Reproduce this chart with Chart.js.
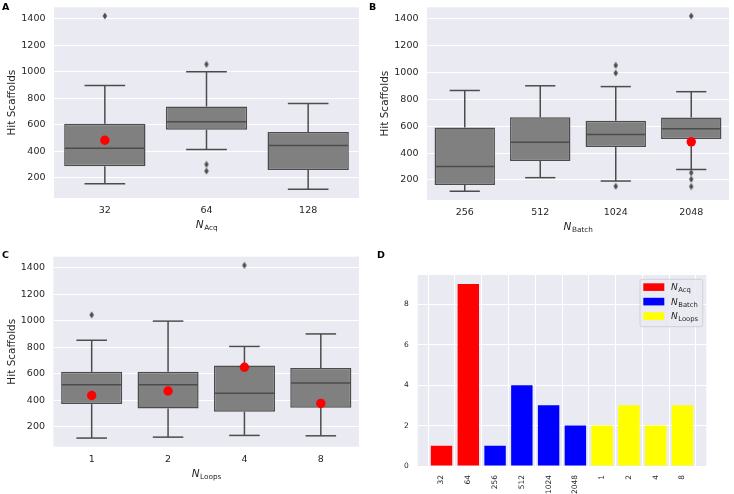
<!DOCTYPE html>
<html><head><meta charset="utf-8">
<script src="https://cdn.jsdelivr.net/npm/chart.js@4/dist/chart.umd.min.js"></script>
<style>
html,body{margin:0;padding:0;background:#fff;}
body{width:734px;height:494px;position:relative;overflow:hidden;}
canvas{position:absolute;}
</style></head><body>
<canvas id="cA" width="367" height="240" style="left:0;top:0"></canvas>
<canvas id="cB" width="367" height="240" style="left:367px;top:0"></canvas>
<canvas id="cC" width="367" height="254" style="left:0;top:240px"></canvas>
<canvas id="cD" width="367" height="254" style="left:367px;top:240px"></canvas>
<script>
// ---------- DATA ----------
// Panel A: N_Acq
const acqCats = ['32', '64', '128'];
const acqQ1 = [287, 562, 257];
const acqMedian = [422, 622, 442];
const acqQ3 = [606, 737, 545];
const acqWhiskLo = [155, 412, 112];
const acqWhiskHi = [895, 1000, 760];
const acqMeans = [482, null, null];
const acqOutlierCats = ['32', '64', '64', '64'];
const acqOutlierVals = [1420, 1055, 300, 250];

// Panel B: N_Batch
const batchCats = ['256', '512', '1024', '2048'];
const batchQ1 = [162, 342, 446, 505];
const batchMedian = [300, 480, 539, 582];
const batchQ3 = [591, 667, 640, 664];
const batchWhiskLo = [116, 217, 192, 278];
const batchWhiskHi = [866, 901, 895, 857];
const batchMeans = [null, null, null, 484];
const batchOutlierCats = ['1024', '1024', '1024', '2048', '2048', '2048', '2048'];
const batchOutlierVals = [1053, 996, 153, 1420, 254, 205, 151];

// Panel C: N_Loops
const loopsCats = ['1', '2', '4', '8'];
const loopsQ1 = [370, 337, 312, 342];
const loopsMedian = [517, 517, 452, 529];
const loopsQ3 = [614, 614, 662, 644];
const loopsWhiskLo = [113, 120, 133, 130];
const loopsWhiskHi = [853, 998, 806, 901];
const loopsMeans = [435, 469, 649, 375];
const loopsOutlierCats = ['1', '4'];
const loopsOutlierVals = [1045, 1420];

const hitTicks = [200, 400, 600, 800, 1000, 1200, 1400];

// Panel D: counts
const countAcq = [1, 9];
const countBatch = [1, 4, 3, 2];
const countLoops = [2, 3, 2, 3];
const countTicks = [0, 2, 4, 6, 8];

// ---------- STYLE ----------
const LINE = '#4c4c4c', BOXFILL = '#808080', BG = '#EAEAF2', TXT = '#262626';
const FAM = "'DejaVu Sans', sans-serif";
Chart.defaults.font.family = FAM;
Chart.defaults.color = TXT;

function makeDiamond() {
  const c = document.createElement('canvas');
  c.width = 6; c.height = 8;
  const g = c.getContext('2d');
  g.fillStyle = LINE;
  g.beginPath(); g.moveTo(3, 0.6); g.lineTo(5.2, 4); g.lineTo(3, 7.4); g.lineTo(0.8, 4); g.closePath(); g.fill();
  return c;
}
const diamond = makeDiamond();

function zeroPad(sc) { sc.paddingTop = 0; sc.paddingBottom = 0; sc.paddingLeft = 0; sc.paddingRight = 0; }

function drawNSub(ctx, sub, cx, baseline, big, small) {
  ctx.font = 'italic ' + big + 'px ' + FAM;
  const wN = ctx.measureText('N').width;
  ctx.font = small + 'px ' + FAM;
  const wS = ctx.measureText(sub).width;
  const x0 = cx - (wN + wS) / 2;
  ctx.textAlign = 'left'; ctx.textBaseline = 'alphabetic';
  ctx.font = 'italic ' + big + 'px ' + FAM;
  ctx.fillText('N', x0, baseline);
  ctx.font = small + 'px ' + FAM;
  ctx.fillText(sub, x0 + wN + 0.5, baseline + 2);
}

function boxChart(id, s, area, letter, letterPos, sub) {
  const cv = document.getElementById(id);
  const W = cv.width, H = cv.height;
  const all = s.lo.concat(s.hi, s.outVals);
  const mn = Math.min(...all), mx = Math.max(...all), m = 0.05 * (mx - mn);
  const extras = {
    id: 'extras_' + id,
    beforeDraw(chart) {
      const {ctx, chartArea: a} = chart;
      ctx.save(); ctx.fillStyle = BG;
      ctx.fillRect(a.left, a.top, a.right - a.left, a.bottom - a.top);
      ctx.restore();
    },
    afterDatasetDraw(chart, args) {
      if (args.index !== 0) return;
      const ctx = chart.ctx, y = chart.scales.y, meta = chart.getDatasetMeta(0);
      ctx.save(); ctx.strokeStyle = LINE; ctx.lineWidth = 1.5;
      const ln = (x1, y1, x2, y2) => { ctx.beginPath(); ctx.moveTo(x1, y1); ctx.lineTo(x2, y2); ctx.stroke(); };
      meta.data.forEach((bar, i) => {
        const x = bar.x, w = bar.width;
        const p = v => y.getPixelForValue(v);
        ln(x, p(s.q1[i]), x, p(s.lo[i]));
        ln(x, p(s.q3[i]), x, p(s.hi[i]));
        ln(x - w / 4, p(s.lo[i]), x + w / 4, p(s.lo[i]));
        ln(x - w / 4, p(s.hi[i]), x + w / 4, p(s.hi[i]));
        ln(x - w / 2 + 0.75, p(s.med[i]), x + w / 2 - 0.75, p(s.med[i]));
      });
      ctx.restore();
    },
    afterDraw(chart) {
      const {ctx, chartArea: a} = chart;
      ctx.save(); ctx.fillStyle = TXT;
      ctx.save();
      ctx.translate(a.left - 41.5, (a.top + a.bottom) / 2); ctx.rotate(-Math.PI / 2);
      ctx.textAlign = 'center'; ctx.textBaseline = 'middle';
      ctx.font = '10.5px ' + FAM;
      ctx.fillText('Hit Scaffolds', 0, 0);
      ctx.restore();
      drawNSub(ctx, sub, (a.left + a.right) / 2, a.bottom + 30, 10.5, 7.3);
      ctx.fillStyle = '#000'; ctx.font = 'bold 9.5px ' + FAM;
      ctx.textAlign = 'left'; ctx.textBaseline = 'alphabetic';
      ctx.fillText(letter, letterPos[0], letterPos[1]);
      ctx.restore();
    }
  };
  return new Chart(cv, {
    type: 'bar',
    data: {
      labels: s.cats,
      datasets: [
        { type: 'bar', data: s.cats.map((c, i) => [s.q1[i], s.q3[i]]), backgroundColor: BOXFILL,
          borderColor: LINE, borderWidth: 1.5, borderSkipped: false, barPercentage: 0.8, categoryPercentage: 1, order: 3 },
        { type: 'line', data: s.outCats.map((c, i) => ({x: c, y: s.outVals[i]})), showLine: false,
          pointStyle: diamond, pointRadius: 3, order: 2 },
        { type: 'line', data: s.means, showLine: false, pointRadius: 4.7, pointBackgroundColor: '#ff0000',
          pointBorderColor: '#ff0000', pointBorderWidth: 0, order: 1 }
      ]
    },
    options: {
      responsive: false, animation: false, events: [], devicePixelRatio: 1,
      layout: { padding: { left: 0, top: area.top, right: W - area.right, bottom: 0 } },
      plugins: { legend: { display: false }, tooltip: { enabled: false } },
      scales: {
        x: { type: 'category', offset: true, grid: { display: false, drawTicks: false }, border: { display: false },
             ticks: { padding: 7, font: { size: 9.5 }, color: TXT },
             afterFit: sc => { sc.height = H - area.bottom; zeroPad(sc); } },
        y: { type: 'linear', min: mn - m, max: mx + m,
             grid: { color: '#ffffff', lineWidth: 1, drawTicks: false }, border: { display: false },
             ticks: { padding: 8.5, font: { size: 9.5 }, color: TXT, callback: v => String(v) },
             afterBuildTicks: sc => { sc.ticks = hitTicks.map(v => ({ value: v })); },
             afterFit: sc => { sc.width = area.left; zeroPad(sc); } }
      }
    },
    plugins: [extras]
  });
}

boxChart('cA', { cats: acqCats, q1: acqQ1, med: acqMedian, q3: acqQ3, lo: acqWhiskLo, hi: acqWhiskHi,
  means: acqMeans, outCats: acqOutlierCats, outVals: acqOutlierVals },
  { left: 54, top: 7.3, right: 359, bottom: 198 }, 'A', [2, 9.5], 'Acq');
boxChart('cB', { cats: batchCats, q1: batchQ1, med: batchMedian, q3: batchQ3, lo: batchWhiskLo, hi: batchWhiskHi,
  means: batchMeans, outCats: batchOutlierCats, outVals: batchOutlierVals },
  { left: 60, top: 7.3, right: 365, bottom: 200 }, 'B', [2, 9.5], 'Batch');
boxChart('cC', { cats: loopsCats, q1: loopsQ1, med: loopsMedian, q3: loopsQ3, lo: loopsWhiskLo, hi: loopsWhiskHi,
  means: loopsMeans, outCats: loopsOutlierCats, outVals: loopsOutlierVals },
  { left: 53.5, top: 16.7, right: 359, bottom: 206.7 }, 'C', [2, 17.5], 'Loops');

// ---------- Panel D ----------
(function () {
  const cv = document.getElementById('cD');
  const W = cv.width, H = cv.height;
  const area = { left: 50.7, top: 35, right: 339.3, bottom: 226 };
  const allLabels = acqCats.slice(0, 2).concat(batchCats, loopsCats);
  const groups = [
    { name: 'Acq', labels: acqCats.slice(0, 2), vals: countAcq, color: '#ff0000' },
    { name: 'Batch', labels: batchCats, vals: countBatch, color: '#0000ff' },
    { name: 'Loops', labels: loopsCats, vals: countLoops, color: '#ffff00' }
  ];
  let idx = 0;
  const datasets = groups.map(g => ({
    data: g.vals.map(v => ({ x: idx++, y: v })),
    backgroundColor: g.color, borderWidth: 0, barPercentage: 0.8, categoryPercentage: 1, grouped: false
  }));
  const n = allLabels.length;
  const xm = 0.05 * ((n - 1 + 0.4) - (-0.4));
  const allCounts = countAcq.concat(countBatch, countLoops);
  const ymax = Math.max(...allCounts) * 1.05;
  const extras = {
    id: 'extrasD',
    beforeDraw(chart) {
      const {ctx, chartArea: a} = chart;
      ctx.save(); ctx.fillStyle = BG;
      ctx.fillRect(a.left, a.top, a.right - a.left, a.bottom - a.top);
      ctx.restore();
    },
    afterDraw(chart) {
      const {ctx, chartArea: a} = chart;
      ctx.save();
      const bx = a.right - 66.3, by = a.top + 4.3, bw = 62.7, bh = 47.4;
      ctx.beginPath();
      if (ctx.roundRect) ctx.roundRect(bx, by, bw, bh, 2); else ctx.rect(bx, by, bw, bh);
      ctx.fillStyle = 'rgba(234,234,242,0.85)'; ctx.fill();
      ctx.strokeStyle = '#d0d0d6'; ctx.lineWidth = 1; ctx.stroke();
      groups.forEach((g, i) => {
        const py = by + 4 + i * 14.5;
        ctx.fillStyle = g.color;
        ctx.fillRect(bx + 3.3, py, 21, 7.6);
        ctx.fillStyle = TXT;
        ctx.font = 'italic 9px ' + FAM;
        ctx.textAlign = 'left'; ctx.textBaseline = 'alphabetic';
        const tx = bx + 31, base = py + 7;
        ctx.fillText('N', tx, base);
        const wN = ctx.measureText('N').width;
        ctx.font = '6.8px ' + FAM;
        ctx.fillText(g.name, tx + wN + 0.5, base + 2);
      });
      ctx.fillStyle = '#000'; ctx.font = 'bold 9.5px ' + FAM;
      ctx.fillText('D', 10, 17.5);
      ctx.restore();
    }
  };
  new Chart(cv, {
    type: 'bar',
    data: { datasets },
    options: {
      responsive: false, animation: false, events: [], devicePixelRatio: 1,
      layout: { padding: { left: 0, top: area.top, right: W - area.right, bottom: 0 } },
      plugins: { legend: { display: false }, tooltip: { enabled: false } },
      scales: {
        x: { type: 'linear', offset: false, min: -0.4 - xm, max: n - 1 + 0.4 + xm,
             grid: { color: '#ffffff', lineWidth: 1, drawTicks: false }, border: { display: false },
             ticks: { padding: 9, font: { size: 7.5 }, color: TXT, minRotation: 90, maxRotation: 90, autoSkip: false,
                      callback: v => allLabels[Math.round(v)] },
             afterBuildTicks: sc => { sc.ticks = allLabels.map((l, i) => ({ value: i })); },
             afterFit: sc => { sc.height = H - area.bottom; zeroPad(sc); } },
        y: { type: 'linear', min: 0, max: ymax,
             grid: { color: '#ffffff', lineWidth: 1, drawTicks: false }, border: { display: false },
             ticks: { padding: 9, font: { size: 7.5 }, color: TXT },
             afterBuildTicks: sc => { sc.ticks = countTicks.map(v => ({ value: v })); },
             afterFit: sc => { sc.width = area.left; zeroPad(sc); } }
      }
    },
    plugins: [extras]
  });
})();
</script>
</body></html>
